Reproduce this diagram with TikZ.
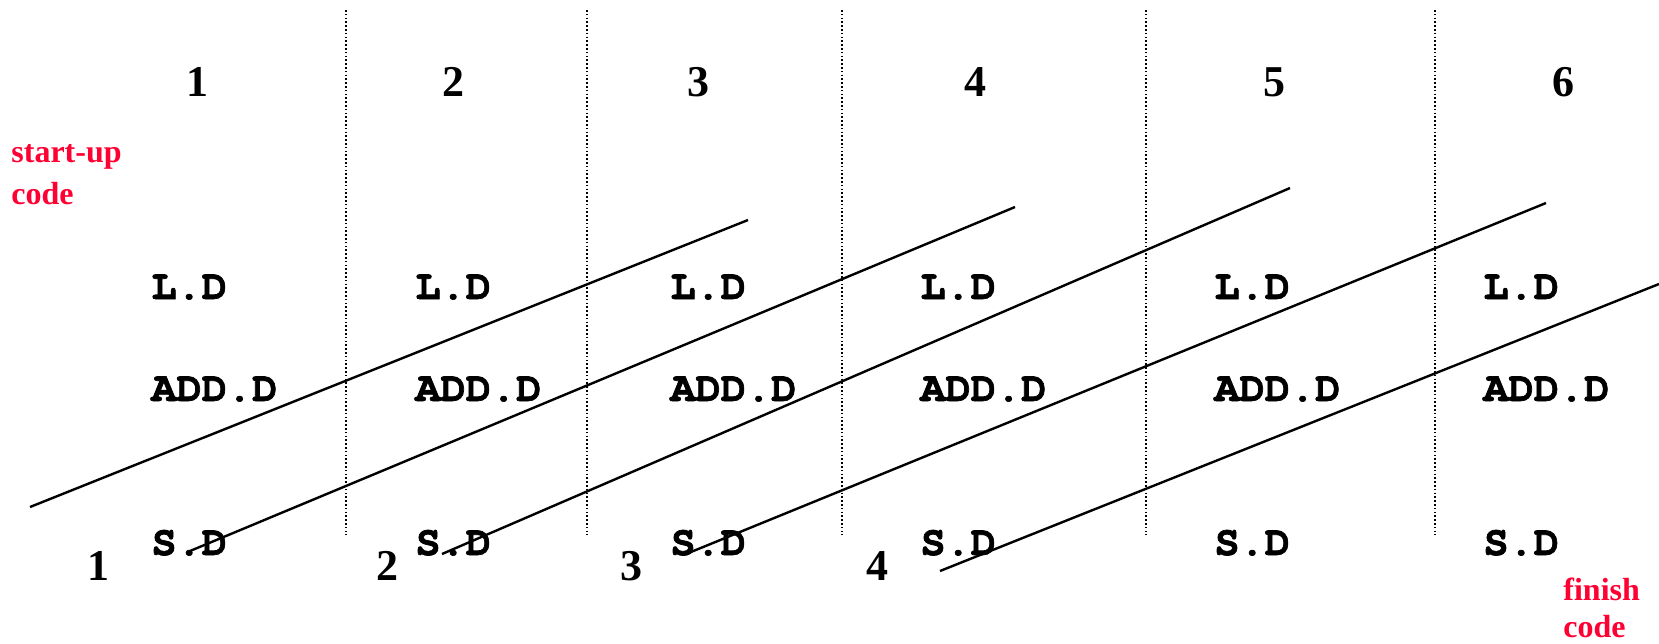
\documentclass[tikz,border=0pt]{standalone}
\usepackage{fontspec}
\setmainfont{Liberation Serif}
\setmonofont{TeX Gyre Cursor}[BoldFeatures={FakeBold=1.6}]
\definecolor{codered}{HTML}{FF0033}
\usetikzlibrary{positioning}

\begin{document}
\begin{tikzpicture}[x=0.5pt,y=-0.5pt,
  stepnum/.style={anchor=base,inner sep=0pt,font=\fontsize{22}{26}\selectfont\bfseries},
  instr/.style={anchor=base west,inner sep=0pt,font=\fontsize{21}{25}\selectfont\ttfamily\bfseries},
  redlabel/.style={codered,anchor=base west,inner sep=0pt,font=\fontsize{16}{20}\selectfont\bfseries}]
  \useasboundingbox (0,0) rectangle (1659,643);
  % Iteration separators
  \foreach \x in {346,587,842,1146,1435} {
    \draw[line width=0.8pt,dash pattern=on 0.8pt off 1.1pt] (\x,10) -- (\x,535);
  }
  % Iteration numbers on top
  \foreach \x [count=\i] in {197,453,698,975,1274,1563} {
    \node[stepnum] (top\i) at (\x,96) {\i};
  }
  % Loop body of each iteration
  \foreach \x [count=\i] in {151,415,670,920,1214,1483} {
    \node[instr] (ld\i) at (\x,299) {L.D};
    \node[instr] (add\i) at (\x,401) {ADD.D};
    \node[instr] (sd\i) at (\x,555) {S.D};
  }
  % Iteration numbers at the bottom
  \foreach \x [count=\i] in {98,387,631,877} {
    \node[stepnum] (bot\i) at (\x,580) {\i};
  }
  % Red labels
  \node[redlabel] (startup) at (11,162) {start-up};
  \node[redlabel] (startcode) at (11,204) {code};
  \node[redlabel] (finish) at (1563,600) {finish};
  \node[redlabel] (finishcode) at (1563,637) {code};
  % Software pipeline slices
  \foreach \sx/\sy/\ex/\ey [count=\i] in
    {30/507/748/220, 190/551/1015/207, 442/554/1290/188,
     686/554/1546/203, 940/571/1659/284} {
    \coordinate (s\i) at (\sx,\sy);
    \coordinate (e\i) at (\ex,\ey);
    \draw[line width=1.2pt] (s\i) -- (e\i);
  }
\end{tikzpicture}
\end{document}
